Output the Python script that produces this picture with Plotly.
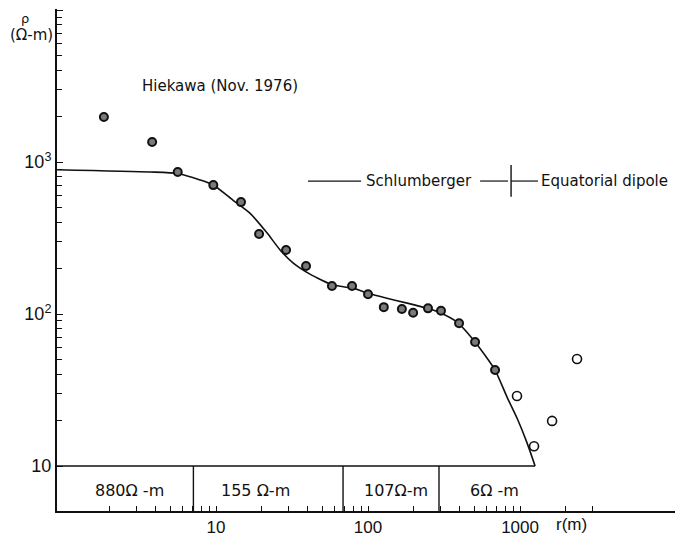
import math
import plotly.graph_objects as go

# ---- data ----
r_schlumberger = [1.83, 3.8, 5.6, 9.6, 14.6, 19.2, 28.9, 39.1, 57.9, 78.5, 100, 127, 167, 198, 248, 302, 397, 506, 685]
rho_schlumberger = [1980, 1355, 860, 705, 545, 336, 264, 207, 153, 153, 135, 111, 108, 102, 109, 105, 87, 65.5, 42.8]

r_dipole = [955, 1236, 1625, 2371]
rho_dipole = [28.9, 13.5, 19.8, 50.6]

curve_r = [0.9, 3.7, 5.6, 7.85, 9.6, 12.9, 16.7, 21.7, 26.4, 32.1, 41.5, 58.9, 79.7, 100, 133, 181, 245, 298, 385, 506, 685, 820, 955, 1112, 1256]
curve_rho = [890, 860, 840, 762, 706, 562, 461, 341, 264, 217, 183, 155, 148, 137, 127, 118, 109, 102, 88.5, 65.5, 42.8, 28.5, 20.7, 14.2, 10]

layer_boundaries = [7.1, 68.5, 293]
layer_labels = ["880\u03a9 -m", "155 \u03a9-m", "107\u03a9-m", "6\u03a9 -m"]
layer_label_r = [2.68, 18.3, 153, 675]

x_tickvals = [10, 100, 1000]
x_ticktext = ["10", "100", "1000"]
y_tickvals = [10, 100, 1000, 10000]
y_ticktext = ["10", "10<sup>2</sup>", "10<sup>3</sup>", " "]

X_RANGE = [-0.046, 4.072]
Y_RANGE = [0.704, 4.007]

FONT = "Liberation Sans, Arial, sans-serif"
WFONT = "DejaVu Sans, Verdana, sans-serif"
INK = "#111111"

fig = go.Figure()

# fitted curve
fig.add_trace(go.Scatter(x=curve_r, y=curve_rho, mode="lines",
                         line=dict(color=INK, width=1.6, shape="spline", smoothing=0.6),
                         hoverinfo="skip", showlegend=False))

# layer box: top line at rho=10 and dividers
fig.add_trace(go.Scatter(x=[10 ** X_RANGE[0], curve_r[-1]], y=[curve_rho[-1], curve_rho[-1]],
                         mode="lines", line=dict(color=INK, width=1.6),
                         hoverinfo="skip", showlegend=False))
for b in layer_boundaries:
    fig.add_trace(go.Scatter(x=[b, b], y=[10, 10 ** Y_RANGE[0]], mode="lines",
                             line=dict(color=INK, width=1.4),
                             hoverinfo="skip", showlegend=False))

# data points
fig.add_trace(go.Scatter(x=r_schlumberger, y=rho_schlumberger, mode="markers",
                         marker=dict(size=8, color="#7a7a7a", line=dict(color=INK, width=2)),
                         showlegend=False))
fig.add_trace(go.Scatter(x=r_dipole, y=rho_dipole, mode="markers",
                         marker=dict(size=9, color="white", line=dict(color=INK, width=1.6)),
                         showlegend=False))

# Schlumberger / Equatorial dipole indicator
ind_y = 750
for seg in ([40.3, 90], [546, 834], [873, 1312]):
    fig.add_trace(go.Scatter(x=seg, y=[ind_y, ind_y], mode="lines",
                             line=dict(color=INK, width=1.2), hoverinfo="skip", showlegend=False))
fig.add_trace(go.Scatter(x=[873, 873], y=[955, 590], mode="lines",
                         line=dict(color=INK, width=1.4), hoverinfo="skip", showlegend=False))

ann_font = dict(family=WFONT, size=15, color=INK)
annotations = [
    dict(x=math.log10(218), y=math.log10(ind_y), text="Schlumberger", showarrow=False,
         xanchor="center", yanchor="middle", font=ann_font),
    dict(x=math.log10(1340), y=math.log10(ind_y), text="Equatorial dipole", showarrow=False,
         xanchor="left", yanchor="middle", font=ann_font),
    dict(x=0.5, y=3.5, text="Hiekawa (Nov. 1976)", showarrow=False,
         xanchor="left", yanchor="middle", font=ann_font),
    dict(x=(31 - 57) / 626, y=(511 - 35) / 502, xref="paper", yref="paper", text="(\u03a9-m)",
         showarrow=False, xanchor="center", yanchor="middle",
         font=dict(family=WFONT, size=15, color=INK)),
    dict(x=(25 - 57) / 626, y=(511 - 19) / 502, xref="paper", yref="paper", text="\u03c1",
         showarrow=False, xanchor="center", yanchor="middle",
         font=dict(family=WFONT, size=13, color=INK)),
    dict(x=(571 - 57) / 626, y=-(524 - 511) / 502, xref="paper", yref="paper", text="r(m)",
         showarrow=False, xanchor="center", yanchor="middle",
         font=dict(family=FONT, size=17, color=INK)),
]
for lab, rr in zip(layer_labels, layer_label_r):
    annotations.append(dict(x=math.log10(rr), y=0.842, text=lab, showarrow=False,
                            xanchor="center", yanchor="middle",
                            font=dict(family=WFONT, size=16, color=INK)))

x_minor = [v * m for m in (1, 10, 100) for v in range(2, 10)] + [2000, 3000]
y_minor = [v * m for m in (10, 100, 1000) for v in range(2, 10)]

# the page body adds an 8px offset, so the figure is sized to fit the 683x538 window
fig.update_layout(
    width=675, height=530,
    margin=dict(l=49, r=0, t=1, b=27, autoexpand=False),
    paper_bgcolor="white", plot_bgcolor="white",
    font=dict(family=FONT, color=INK),
    annotations=annotations,
    xaxis=dict(type="log", range=X_RANGE, showgrid=False, zeroline=False, automargin=False,
               showline=True, linecolor=INK, linewidth=2,
               ticks="inside", ticklen=5, tickwidth=1.4, tickcolor=INK,
               tickmode="array", tickvals=x_tickvals, ticktext=x_ticktext,
               tickfont=dict(family=FONT, size=17, color=INK),
               minor=dict(ticks="inside", ticklen=5, tickwidth=1.4, tickcolor=INK,
                          tickmode="array", tickvals=x_minor, showgrid=False)),
    yaxis=dict(type="log", range=Y_RANGE, showgrid=False, zeroline=False, automargin=False,
               showline=True, linecolor=INK, linewidth=2,
               ticks="inside", ticklen=6, tickwidth=1.4, tickcolor=INK,
               tickmode="array", tickvals=y_tickvals, ticktext=y_ticktext,
               tickfont=dict(family=FONT, size=18, color=INK),
               minor=dict(ticks="inside", ticklen=5, tickwidth=1.4, tickcolor=INK,
                          tickmode="array", tickvals=y_minor, showgrid=False)),
)

fig.write_html("out.html")
